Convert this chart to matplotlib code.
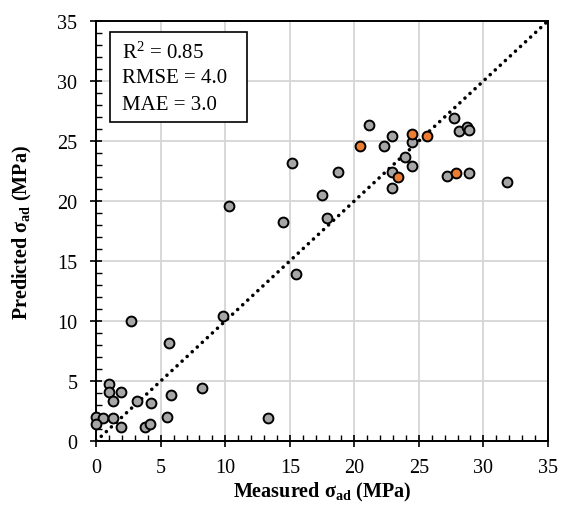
import matplotlib
matplotlib.use("Agg")
import matplotlib.pyplot as plt
from matplotlib.ticker import MultipleLocator
from matplotlib.patches import Rectangle

plt.rcParams['font.family'] = ['Liberation Serif', 'DejaVu Serif']
plt.rcParams['mathtext.fontset'] = 'custom'
plt.rcParams['mathtext.rm'] = 'Liberation Serif'
plt.rcParams['mathtext.it'] = 'Liberation Serif:italic'
plt.rcParams['mathtext.bf'] = 'Liberation Serif:bold'
plt.rcParams['mathtext.default'] = 'regular'

# ---- data ----
x_gray = [0.0, 0.5, 0.0, 1.0, 1.0, 1.9, 1.3, 1.3, 1.9, 2.7, 3.15, 3.8, 4.2, 4.25,
          5.45, 5.65, 5.8, 8.2, 9.8, 10.3, 13.3, 14.45, 15.15, 15.45, 17.5, 17.9,
          18.75, 21.15, 22.3, 22.95, 22.95, 22.95, 23.9, 24.5, 24.5, 27.15, 27.7,
          28.15, 28.7, 28.9, 28.85, 31.8]
y_gray = [2.0, 1.9, 1.4, 4.75, 4.1, 4.1, 3.35, 1.9, 1.15, 10.0, 3.35, 1.15, 1.4, 3.2,
          2.0, 8.2, 3.85, 4.4, 10.45, 19.6, 1.9, 18.25, 23.2, 13.9, 20.5, 18.55,
          22.4, 26.35, 24.55, 25.45, 22.45, 21.1, 23.65, 24.95, 22.9, 22.1, 26.95,
          25.8, 26.2, 25.9, 22.3, 21.55]
x_orange = [20.45, 24.5, 25.6, 23.4, 27.9]
y_orange = [24.55, 25.6, 25.45, 22.0, 22.3]
ideal = [0, 35]
metrics = ["R$^{2}$ = 0.85", "RMSE = 4.0", "MAE = 3.0"]
xlabel = "Measured σ$_{\\mathbf{ad}}$ (MPa)"
ylabel = "Predicted σ$_{\\mathbf{ad}}$ (MPa)"

fig = plt.figure(figsize=(5.66, 5.06), dpi=100)
ax = fig.add_axes([0.170, 0.1265, 0.798, 0.830])

ax.set_xlim(0, 35)
ax.set_ylim(0, 35)
ax.xaxis.set_major_locator(MultipleLocator(5))
ax.yaxis.set_major_locator(MultipleLocator(5))
ax.xaxis.set_minor_locator(MultipleLocator(1))
ax.yaxis.set_minor_locator(MultipleLocator(1))
ax.grid(True, which='major', color='#d6d6d6', linewidth=1.3, zorder=0)
ax.set_axisbelow(True)

ax.tick_params(which='major', direction='inout', length=9, width=1.2,
               labelsize=14.5, top=False, right=False)
ax.tick_params(axis='x', which='major', pad=7.5)
ax.tick_params(axis='y', which='major', pad=9)
ax.tick_params(which='minor', direction='in', length=4, width=1.0,
               top=False, right=False)
for s in ax.spines.values():
    s.set_linewidth(1.4)

ax.plot(ideal, ideal, color='black', linewidth=2.6,
        linestyle=(0, (0.01, 1.9)), dash_capstyle='round', zorder=2)

ax.scatter(x_gray, y_gray, s=50, facecolor='#a6a6a6', edgecolor='black',
           linewidth=1.4, zorder=4, clip_on=False)
ax.scatter(x_orange, y_orange, s=50, facecolor='#ed7d31', edgecolor='black',
           linewidth=1.4, zorder=4, clip_on=False)

ax.add_patch(Rectangle((0.031, 0.760), 0.303, 0.214, transform=ax.transAxes,
                       facecolor='white', edgecolor='black', linewidth=1.2,
                       zorder=5))
for t, yy in zip(metrics, [0.926, 0.866, 0.802]):
    ax.text(0.058, yy, t, transform=ax.transAxes, fontsize=15,
            va='center', ha='left', zorder=6)

ax.set_xlabel(xlabel, fontsize=14.5, fontweight='bold')
ax.set_ylabel(ylabel, fontsize=14.5, fontweight='bold')
ax.xaxis.set_label_coords(0.5, -0.092)
ax.yaxis.set_label_coords(-0.137, 0.5)

fig.savefig('out.png', dpi=100)
